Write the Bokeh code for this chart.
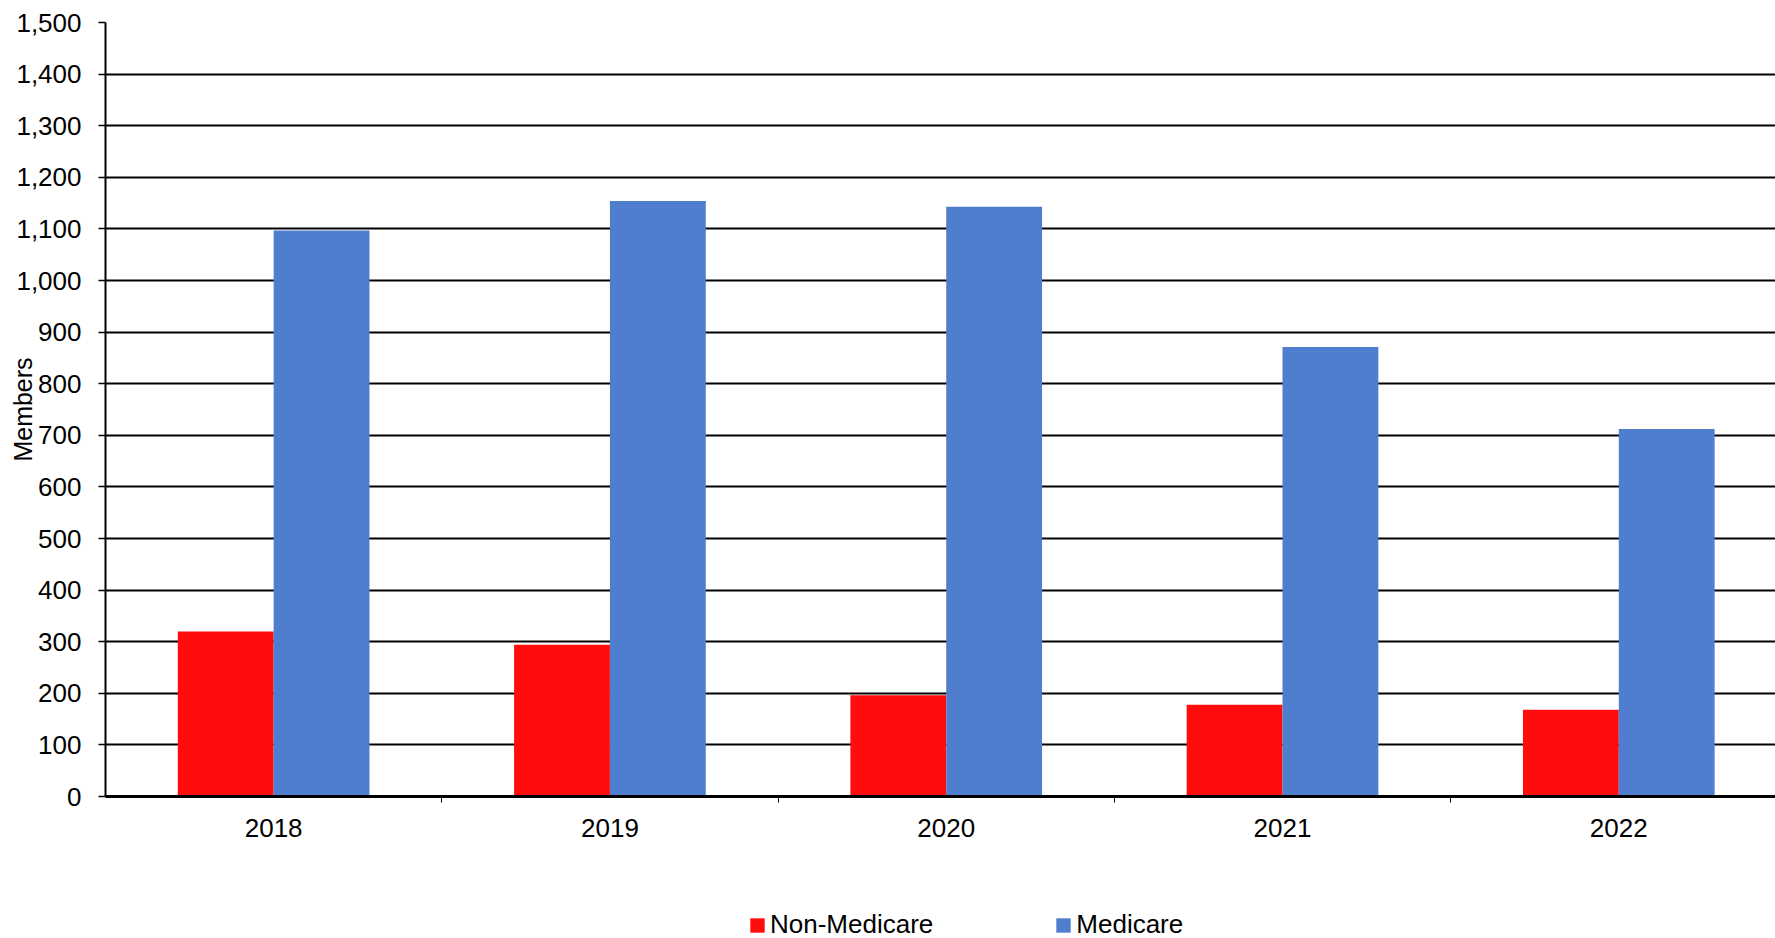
from bokeh.plotting import figure
from bokeh.models import (ColumnDataSource, Range1d, FixedTicker, NumeralTickFormatter,
                          Legend, LegendItem, LinearAxis)
from bokeh.layouts import column
from bokeh.transform import dodge
from bokeh.embed import file_html
from bokeh.resources import INLINE

categories = ["2018", "2019", "2020", "2021", "2022"]
non_medicare = [320, 294, 196, 178, 168]
medicare = [1097, 1154, 1143, 871, 712]
series_names = ["Non-Medicare", "Medicare"]
y_ticks = list(range(0, 1501, 100))

FONT = "Liberation Sans"
RED = "#FF0D0D"
BLUE = "#4F7ECF"

centers = [i + 0.5 for i in range(len(categories))]
src = ColumnDataSource(dict(x=centers, non=non_medicare, med=medicare, cat=categories))

p = figure(width=1775, height=870, output_backend="svg", toolbar_location=None,
           x_range=Range1d(0, 4.966), y_range=Range1d(0, 1500),
           min_border_left=105, min_border_top=22, min_border_right=0,
           min_border_bottom=74, x_axis_type=None)
p.outline_line_color = None
p.background_fill_color = "white"
p.border_fill_color = "white"

bw = 0.285
p.vbar(x=dodge("x", -0.1425), top="non", width=bw, source=src,
       fill_color=RED, line_color=None)
p.vbar(x=dodge("x", 0.1425), top="med", width=bw, source=src,
       fill_color=BLUE, line_color=None)

# x axis: labels at category centres, small ticks at category boundaries
xaxis = LinearAxis(ticker=FixedTicker(ticks=centers, minor_ticks=list(range(1, len(categories)))),
                   major_label_overrides={c: lab for c, lab in zip(centers, categories)})
xaxis.major_tick_out = 0
xaxis.major_tick_in = 0
xaxis.minor_tick_out = 6
xaxis.minor_tick_in = 0
xaxis.minor_tick_line_color = "black"
xaxis.minor_tick_line_width = 1
xaxis.axis_line_color = "black"
xaxis.axis_line_width = 3
xaxis.major_label_text_font = FONT
xaxis.major_label_text_font_size = "26px"
xaxis.major_label_text_color = "black"
xaxis.major_label_standoff = 16
p.add_layout(xaxis, "below")

# y axis
yaxis = p.yaxis[0]
yaxis.ticker = FixedTicker(ticks=y_ticks)
yaxis.formatter = NumeralTickFormatter(format="0,0")
yaxis.major_tick_out = 7
yaxis.major_tick_in = 0
yaxis.minor_tick_out = 0
yaxis.minor_tick_in = 0
yaxis.major_tick_line_color = "black"
yaxis.major_tick_line_width = 1.5
yaxis.axis_line_color = "black"
yaxis.axis_line_width = 2
yaxis.major_label_text_font = FONT
yaxis.major_label_text_font_size = "26px"
yaxis.major_label_text_color = "black"
yaxis.major_label_standoff = 17
yaxis.axis_label = "Members"
yaxis.axis_label_text_font = FONT
yaxis.axis_label_text_font_size = "25px"
yaxis.axis_label_text_font_style = "normal"
yaxis.axis_label_text_color = "black"
yaxis.axis_label_standoff = -24

p.ygrid.ticker = FixedTicker(ticks=y_ticks)
p.ygrid.grid_line_color = "black"
p.ygrid.grid_line_width = 2
p.xgrid.visible = False

# legend strip below the chart (hidden renderers only provide the legend swatches)
lg = figure(width=1775, height=68, output_backend="svg", toolbar_location=None,
            x_range=Range1d(0, 4.966), y_range=Range1d(0, 1500),
            x_axis_location=None, y_axis_location=None,
            min_border=0, min_border_left=0, min_border_right=0,
            min_border_top=0, min_border_bottom=0)
lg.outline_line_color = None
lg.xgrid.visible = False
lg.ygrid.visible = False
e1 = lg.vbar(x="x", top="non", width=bw, source=src, fill_color=RED, line_color=None,
             visible=False)
e2 = lg.vbar(x="x", top="med", width=bw, source=src, fill_color=BLUE, line_color=None,
             visible=False)
legend = Legend(items=[LegendItem(label=series_names[0], renderers=[e1]),
                       LegendItem(label=series_names[1], renderers=[e2])],
                orientation="horizontal", location=(643, -2),
                glyph_width=18, glyph_height=18, label_standoff=4, spacing=121,
                label_text_font=FONT, label_text_font_size="26px",
                label_text_color="black", border_line_color=None,
                background_fill_alpha=0, padding=0, margin=0)
lg.add_layout(legend, "center")

open("out.html", "w").write(file_html(column(p, lg, spacing=0), INLINE))
